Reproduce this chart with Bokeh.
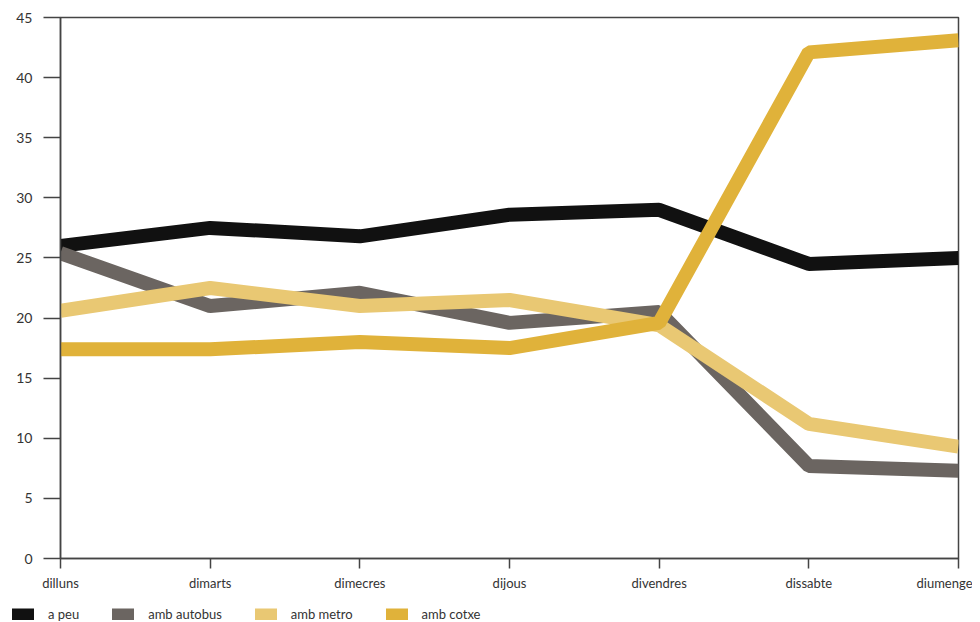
from bokeh.plotting import figure
from bokeh.models import Legend, LegendItem, FixedTicker, Range1d
from bokeh.layouts import column, row
from bokeh.embed import file_html
from bokeh.resources import INLINE

days = ["dilluns", "dimarts", "dimecres", "dijous", "divendres", "dissabte", "diumenge"]
a_peu = [26.0, 27.5, 26.8, 28.6, 29.0, 24.5, 25.0]
amb_autobus = [25.4, 21.0, 22.1, 19.6, 20.5, 7.7, 7.3]
amb_metro = [20.6, 22.5, 21.0, 21.5, 19.4, 11.2, 9.3]
amb_cotxe = [17.4, 17.4, 18.0, 17.5, 19.6, 42.1, 43.1]

series = [
    ("a peu", a_peu, "#111111"),
    ("amb autobus", amb_autobus, "#6b6561"),
    ("amb metro", amb_metro, "#e9c873"),
    ("amb cotxe", amb_cotxe, "#e0b23a"),
]

xs = list(range(len(days)))
font = "Lato"

p = figure(width=972, height=592, frame_width=898, frame_height=541,
           output_backend="svg", toolbar_location=None,
           x_range=Range1d(0, len(days) - 1), y_range=Range1d(0, 45),
           min_border_left=60, min_border_right=14, min_border_top=17, min_border_bottom=0)

for name, vals, col in series:
    p.line(xs, vals, line_color=col, line_width=14)

p.xgrid.visible = False
p.ygrid.visible = False
p.outline_line_color = "#444444"
p.outline_line_width = 1.5

p.xaxis.ticker = FixedTicker(ticks=xs)
p.xaxis.major_label_overrides = {i: d for i, d in enumerate(days)}
p.yaxis.ticker = FixedTicker(ticks=list(range(0, 46, 5)))
for ax in (p.xaxis[0], p.yaxis[0]):
    ax.axis_line_color = "#444444"
    ax.axis_line_width = 1.5
    ax.major_tick_line_color = "#444444"
    ax.major_tick_line_width = 1.5
    ax.minor_tick_line_color = None
    ax.major_label_text_font = font
    ax.major_label_text_color = "#333333"
p.xaxis.major_label_text_font_size = "13px"
p.yaxis.major_label_text_font_size = "14px"
p.yaxis.major_tick_out = 17
p.yaxis.major_tick_in = 0
p.yaxis.major_label_standoff = 11
p.xaxis.major_tick_out = 10
p.xaxis.major_tick_in = 0
p.xaxis.major_label_standoff = 6

# legend strip below the chart
lg = figure(width=972, height=30, output_backend="svg", toolbar_location=None,
            x_axis_location=None, y_axis_location=None,
            x_range=Range1d(0, 1), y_range=Range1d(0, 1),
            min_border_left=0, min_border_right=0, min_border_top=0, min_border_bottom=0)
lg.xgrid.visible = False
lg.ygrid.visible = False
lg.outline_line_color = None
items = []
for name, vals, col in series:
    r = lg.line([-5, -4], [-5, -5], line_color=col, line_width=12, line_cap="round")
    items.append(LegendItem(label=name, renderers=[r]))
legend = Legend(items=items, orientation="horizontal", location=(12, 1),
                glyph_width=22, glyph_height=12, label_standoff=14, spacing=33,
                padding=0, margin=0, border_line_color=None, background_fill_alpha=0,
                label_text_font=font, label_text_font_size="13px", label_text_color="#333333")
lg.add_layout(legend)

layout = column(p, row(lg), spacing=0)
open("out.html", "w").write(file_html(layout, INLINE))
